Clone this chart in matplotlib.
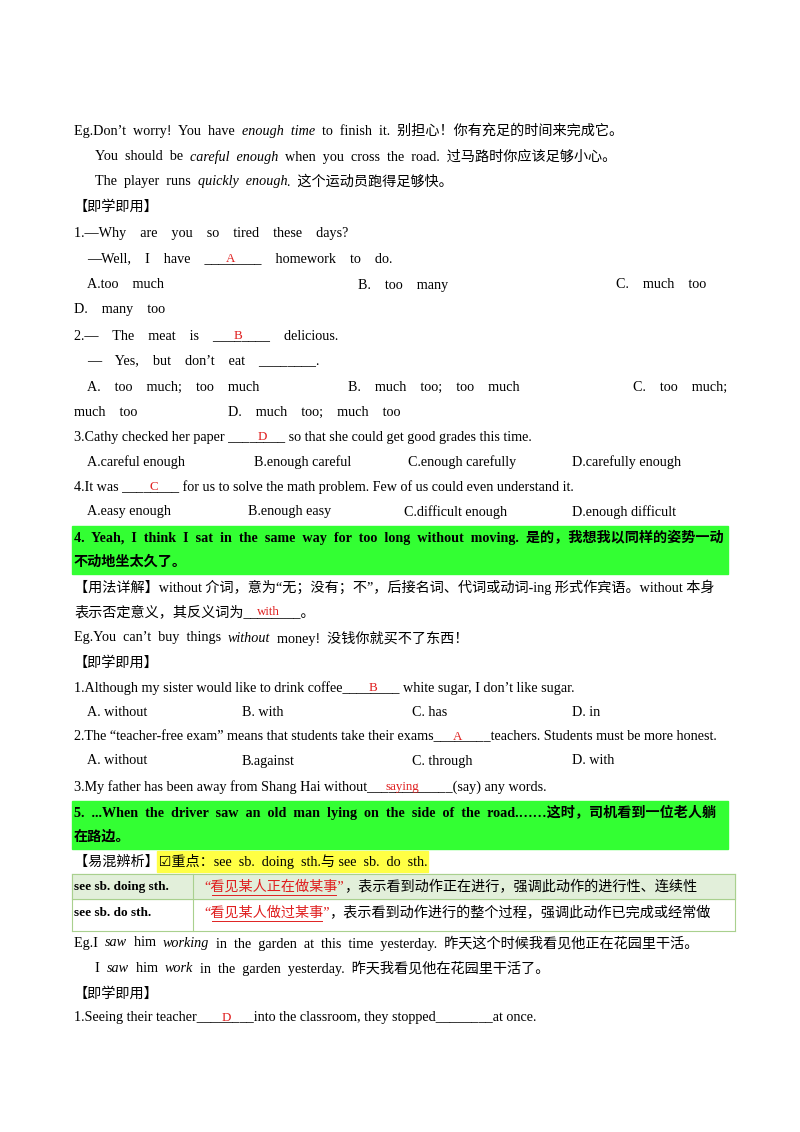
import matplotlib.pyplot as plt
from matplotlib.patches import Rectangle

plt.rcParams['font.family'] = ['Liberation Serif', 'Noto Sans CJK SC', 'DejaVu Sans']

# each line: (y, [(x, text, style)]) style: n normal, i italic, r red, b bold
# x=None -> continue right after the previous segment
lines = [
    (131, [(74, "Eg.Don’t  worry!  You  have  ", 'n'), (None, "enough  time", 'i'), (None, "  to  finish  it.  别担心！你有充足的时间来完成它。", 'n')]),
    (157, [(95, "You  should  be  ", 'n'), (None, "careful  enough", 'i'), (None, "  when  you  cross  the  road.  过马路时你应该足够小心。", 'n')]),
    (182, [(95, "The  player  runs  ", 'n'), (None, "quickly  enough", 'i'), (None, ".  这个运动员跑得足够快。", 'n')]),
    (207, [(74, "【即学即用】", 'n')]),
    (233, [(74, "1.—Why    are    you    so    tired    these    days?", 'n')]),
    (259, [(87, "—Well,    I    have    ________    homework    to    do.", 'n'), (226, "A", 'r')]),
    (285, [(87, "A.too    much", 'n'), (358, "B.    too    many", 'n'), (616, "C.    much    too", 'n')]),
    (310, [(74, "D.    many    too", 'n')]),
    (336, [(74, "2.—    The    meat    is    ________    delicious.", 'n'), (234, "B", 'r')]),
    (361, [(87, "—    Yes,    but    don’t    eat    ________.", 'n')]),
    (387, [(87, "A.    too    much;    too    much", 'n'), (348, "B.    much    too;    too    much", 'n'), (633, "C.    too    much;", 'n')]),
    (412, [(74, "much    too", 'n'), (228, "D.    much    too;    much    too", 'n')]),
    (437, [(74, "3.Cathy checked her paper ________ so that she could get good grades this time.", 'n'), (258, "D", 'r')]),
    (462, [(87, "A.careful enough", 'n'), (254, "B.enough careful", 'n'), (408, "C.enough carefully", 'n'), (572, "D.carefully enough", 'n')]),
    (487, [(74, "4.It was ________ for us to solve the math problem. Few of us could even understand it.", 'n'), (149, "C", 'r')]),
    (512, [(87, "A.easy enough", 'n'), (248, "B.enough easy", 'n'), (404, "C.difficult enough", 'n'), (572, "D.enough difficult", 'n')]),
    (537, [(74, "4.  Yeah,  I  think  I  sat  in  the  same  way  for  too  long  without  moving.  是的，我想我以同样的姿势一动", 'b')]),
    (562, [(74, "不动地坐太久了。", 'b')]),
    (587, [(74, "【用法详解】without 介词，意为“无；没有；不”，后接名词、代词或动词-ing 形式作宾语。without 本身", 'n')]),
    (612, [(74, "表示否定意义，其反义词为________。", 'n'), (257, "with", 'r')]),
    (638, [(74, "Eg.You  can’t  buy  things  ", 'n'), (None, "without", 'i'), (None, "  money!  没钱你就买不了东西！", 'n')]),
    (663, [(74, "【即学即用】", 'n')]),
    (688, [(74, "1.Although my sister would like to drink coffee________ white sugar, I don’t like sugar.", 'n'), (369, "B", 'r')]),
    (712, [(87, "A. without", 'n'), (242, "B. with", 'n'), (412, "C. has", 'n'), (572, "D. in", 'n')]),
    (737, [(74, "2.The “teacher-free exam” means that students take their exams________teachers. Students must be more honest.", 'n'), (453, "A", 'r')]),
    (761, [(87, "A. without", 'n'), (242, "B.against", 'n'), (412, "C. through", 'n'), (572, "D. with", 'n')]),
    (787, [(74, "3.My father has been away from Shang Hai without____________(say) any words.", 'n'), (386, "saying", 'r')]),
    (812, [(74, "5.  ...When  the  driver  saw  an  old  man  lying  on  the  side  of  the  road.……这时，司机看到一位老人躺", 'b')]),
    (837, [(74, "在路边。", 'b')]),
    (861, [(74, "【易混辨析】☑重点：see  sb.  doing  sth.与 see  sb.  do  sth.", 'n')]),
    (943, [(74, "Eg.I  ", 'n'), (None, "saw", 'i'), (None, "  him  ", 'n'), (None, "working", 'i'), (None, "  in  the  garden  at  this  time  yesterday.  昨天这个时候我看见他正在花园里干活。", 'n')]),
    (968, [(95, "I  ", 'n'), (None, "saw", 'i'), (None, "  him  ", 'n'), (None, "work", 'i'), (None, "  in  the  garden  yesterday.  昨天我看见他在花园里干活了。", 'n')]),
    (994, [(74, "【即学即用】", 'n')]),
    (1018, [(74, "1.Seeing their teacher________into the classroom, they stopped________at once.", 'n'), (222, "D", 'r')]),
]
table_left = ["see sb. doing sth.", "see sb. do sth."]
table_red = ["“看见某人正在做某事”", "“看见某人做过某事”"]
table_rest = ["，表示看到动作正在进行，强调此动作的进行性、连续性",
              "，表示看到动作进行的整个过程，强调此动作已完成或经常做"]

fig = plt.figure(figsize=(8, 11.32), dpi=100)
ax = fig.add_axes([0, 0, 1, 1])
ax.set_xlim(0, 800)
ax.set_ylim(1132, 0)
ax.axis('off')
renderer = fig.canvas.get_renderer()

# highlights
ax.add_patch(Rectangle((72, 526), 656, 48, color='#33ff33', zorder=0))
ax.add_patch(Rectangle((72, 801), 656, 48, color='#33ff33', zorder=0))
ax.add_patch(Rectangle((157, 851), 271, 21, color='#ffff44', zorder=0))

fs = 10.2
for y, segs in lines:
    cur = 74
    for x, s, st in segs:
        kw = dict(fontsize=fs, va='center', ha='left', color='black')
        if x is None:
            x = cur
        if st == 'i':
            kw['style'] = 'italic'
        elif st == 'b':
            kw['weight'] = 'bold'
        elif st == 'r':
            kw['color'] = '#e02020'
            kw['fontsize'] = fs - 0.8
            kw['va'] = 'bottom'
            ax.text(x, y + 6, s, **kw)
            continue
        t = ax.text(x, y, s, **kw)
        bb = t.get_window_extent(renderer)
        cur = x + bb.width  # 1 px == 1 data unit

# table
rows_y = [874, 899, 931]
ax.add_patch(Rectangle((72, 874), 663, 25, color='#e2efda', zorder=0))
for yy in rows_y:
    ax.plot([72, 735], [yy, yy], color='#a9d08e', lw=0.8)
for xx in [72, 193, 735]:
    ax.plot([xx, xx], [874, 931], color='#a9d08e', lw=0.8)
for i, yc in enumerate([887, 913]):
    ax.text(74, yc, table_left[i], fontsize=9.5, weight='bold', va='center')
    t = ax.text(204, yc, table_red[i], fontsize=fs, color='#e02020', va='center')
    w = t.get_window_extent(renderer).width
    ax.text(204 + w, yc, table_rest[i], fontsize=fs, va='center')
    ax.plot([212, 204 + w - 8], [yc + 8, yc + 8], color='#e02020', lw=0.7)

fig.savefig('out.png', dpi=100)
